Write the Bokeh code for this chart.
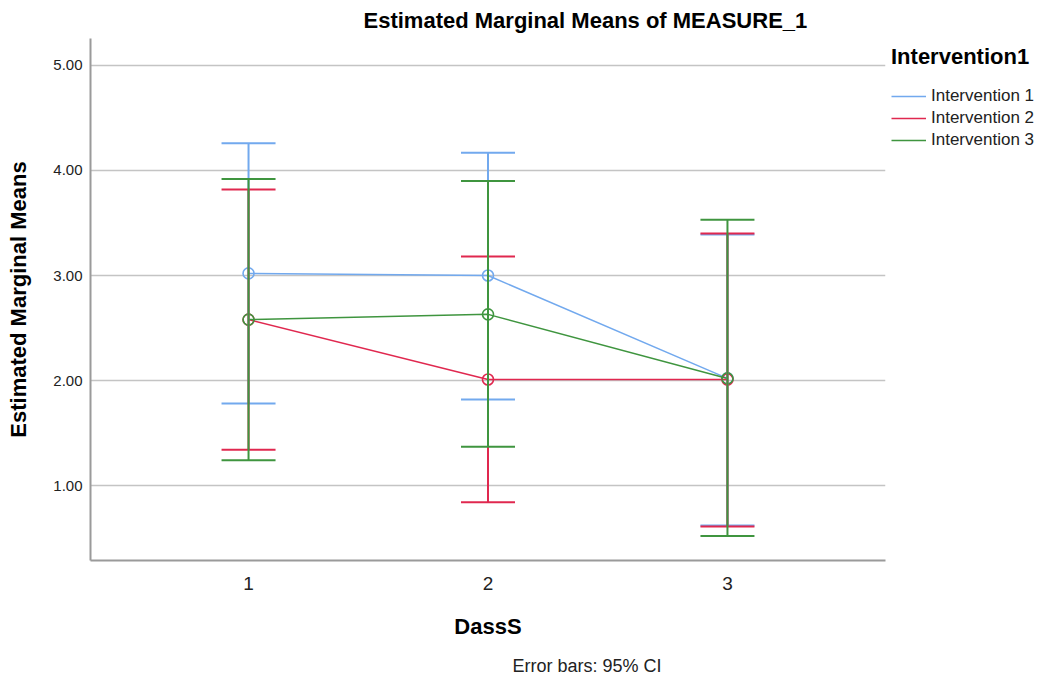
from bokeh.plotting import figure
from bokeh.models import (ColumnDataSource, Whisker, TeeHead, Legend, LegendItem,
                          Title, FixedTicker, Range1d)
from bokeh.embed import file_html
from bokeh.resources import INLINE

# ---- data ----
dass_levels = [1, 2, 3]
x_tick_labels = ["1", "2", "3"]
y_ticks = [1, 2, 3, 4, 5]
y_tick_labels = ["1.00", "2.00", "3.00", "4.00", "5.00"]
series_names = ["Intervention 1", "Intervention 2", "Intervention 3"]

means_int1 = [3.02, 3.00, 2.02]
lower_int1 = [1.78, 1.82, 0.62]
upper_int1 = [4.26, 4.17, 3.39]

means_int2 = [2.58, 2.01, 2.01]
lower_int2 = [1.34, 0.84, 0.61]
upper_int2 = [3.82, 3.18, 3.40]

means_int3 = [2.58, 2.63, 2.02]
lower_int3 = [1.24, 1.37, 0.52]
upper_int3 = [3.92, 3.90, 3.53]

colors = ["#72a9ee", "#e0284f", "#3f953f"]
FONT = "Liberation Sans"

p = figure(frame_width=795, frame_height=522, output_backend="svg",
           toolbar_location=None,
           x_range=Range1d(0.34, 3.66), y_range=Range1d(0.286, 5.257),
           min_border_left=90, min_border_right=161, min_border_top=38,
           min_border_bottom=129)
p.title = None
p.outline_line_color = None
p.background_fill_color = "white"
p.border_fill_color = "white"

# grid
p.xgrid.grid_line_color = None
p.ygrid.ticker = FixedTicker(ticks=y_ticks)
p.ygrid.grid_line_color = "#c4c4c4"
p.ygrid.grid_line_width = 1.5

# axes
p.xaxis.ticker = FixedTicker(ticks=dass_levels)
p.xaxis.major_label_overrides = {k: v for k, v in zip(dass_levels, x_tick_labels)}
p.yaxis.ticker = FixedTicker(ticks=y_ticks)
p.yaxis.major_label_overrides = {k: v for k, v in zip(y_ticks, y_tick_labels)}
for ax in (p.xaxis, p.yaxis):
    ax.axis_line_color = "#9a9a9a"
    ax.axis_line_width = 2
    ax.major_tick_line_color = None
    ax.minor_tick_line_color = None
    ax.major_tick_in = 0
    ax.major_tick_out = 0
    ax.major_label_text_font = FONT
    ax.axis_label_text_font = FONT
    ax.axis_label_text_font_style = "bold"
    ax.axis_label_text_font_size = "22px"
    ax.axis_label_text_color = "#000000"
    ax.major_label_text_color = "#222222"

p.xaxis.axis_label = "DassS"
p.xaxis.major_label_text_font_size = "19px"
p.xaxis.major_label_standoff = 16
p.xaxis.axis_label_standoff = 21

p.yaxis.axis_label = "Estimated Marginal Means"
p.yaxis.major_label_text_font_size = "15px"
p.yaxis.major_label_standoff = 8
p.yaxis.axis_label_standoff = 19

# series
all_series = [
    (means_int1, lower_int1, upper_int1),
    (means_int2, lower_int2, upper_int2),
    (means_int3, lower_int3, upper_int3),
]
items = []
for name, (m, lo, up), c in zip(series_names, all_series, colors):
    src = ColumnDataSource(dict(x=dass_levels, mean=m, lower=lo, upper=up))
    w = Whisker(source=src, base="x", upper="upper", lower="lower",
                line_color=c, line_width=2,
                upper_head=TeeHead(size=54, line_color=c, line_width=2),
                lower_head=TeeHead(size=54, line_color=c, line_width=2),
                level="glyph")
    p.add_layout(w)
    ln = p.line("x", "mean", source=src, line_color=c, line_width=1.5)
    p.scatter("x", "mean", source=src, marker="circle", size=11,
              fill_color=None, line_color=c, line_width=1.6)
    items.append(LegendItem(label=name, renderers=[ln]))

legend = Legend(items=items, title="Intervention1", location="top_left",
                orientation="vertical")
legend.border_line_color = None
legend.background_fill_alpha = 0
legend.margin = 6
legend.padding = 4
legend.title_text_font = FONT
legend.title_text_font_size = "22px"
legend.title_text_font_style = "bold"
legend.title_text_color = "#000000"
legend.title_standoff = 16
legend.label_text_font = FONT
legend.label_text_font_size = "17px"
legend.label_text_color = "#222222"
legend.glyph_width = 35
legend.glyph_height = 18
legend.label_height = 18
legend.label_standoff = 5
legend.spacing = 2
p.add_layout(legend, "right")

# title and footnote
p.add_layout(Title(text="Estimated Marginal Means of MEASURE_1", align="left",
                   offset=273, standoff=11, text_font=FONT, text_font_size="22px",
                   text_font_style="bold", text_color="#000000"), "above")
p.add_layout(Title(text="Error bars: 95% CI", align="left", offset=422,
                   standoff=26, vertical_align="middle", text_font=FONT,
                   text_font_size="18px", text_font_style="normal",
                   text_color="#222222"), "below")

open("out.html", "w").write(file_html(p, INLINE))
